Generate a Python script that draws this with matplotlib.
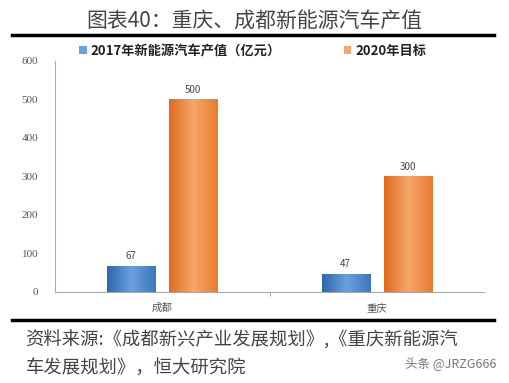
import matplotlib

matplotlib.use("Agg")
import matplotlib.pyplot as plt
import numpy as np
from matplotlib.colors import LinearSegmentedColormap
from matplotlib.lines import Line2D
from matplotlib.patches import Patch

plt.rcParams["font.family"] = ["Noto Sans CJK SC", "DejaVu Sans"]

CITIES = ["成都", "重庆"]
VALUE_2017 = [67, 47]
TARGET_2020 = [500, 300]
SERIES_LABELS = ["2017年新能源汽车产值（亿元）", "2020年目标"]
Y_TICKS = [0, 100, 200, 300, 400, 500, 600]

TITLE = "图表40：重庆、成都新能源汽车产值"
SOURCE_LINES = ["资料来源:《成都新兴产业发展规划》,《重庆新能源汽", "车发展规划》，恒大研究院"]
WATERMARK = "头条 @JRZG666"

BLUE = ["#2d67ad", "#6aa0dc", "#3b78c0"]
ORANGE = ["#e06a1f", "#f7a76a", "#ea7b30"]


def gradient_bars(ax, bars, colors):
    cmap = LinearSegmentedColormap.from_list("g", colors)
    grad = np.linspace(0, 1, 64).reshape(1, -1)
    for b in bars:
        x0, y0 = b.get_x(), b.get_y()
        w, h = b.get_width(), b.get_height()
        im = ax.imshow(grad, cmap=cmap, aspect="auto", extent=(x0, x0 + w, y0, y0 + h),
                       zorder=3)
        im.set_clip_path(b)
        b.set_facecolor("none")


fig = plt.figure(figsize=(5.09, 3.83), dpi=100)
ax = fig.add_axes([0.108, 0.238, 0.843, 0.603])

x = np.arange(len(CITIES))
w = 0.225
b1 = ax.bar(x - 0.145, VALUE_2017, width=w, color=BLUE[1], edgecolor="none", zorder=3)
b2 = ax.bar(x + 0.145, TARGET_2020, width=w, color=ORANGE[1], edgecolor="none", zorder=3)
gradient_bars(ax, b1, BLUE)
gradient_bars(ax, b2, ORANGE)

for xs, vals in ((x - 0.145, VALUE_2017), (x + 0.145, TARGET_2020)):
    for xi, v in zip(xs, vals):
        ax.text(xi, v + 12, str(v), ha="center", va="bottom", fontsize=7, color="#444444")

ax.set_xlim(-0.5, 1.5)
ax.set_ylim(0, 600)
ax.set_yticks(Y_TICKS)
ax.set_yticklabels([str(t) for t in Y_TICKS], fontsize=8, color="#555555",
                   family="Liberation Serif")
ax.set_xticks(x)
ax.set_xticklabels(CITIES, fontsize=7.5, color="#555555")
ax.tick_params(axis="x", length=0, pad=8)
ax.tick_params(axis="y", length=0, pad=12)
ax.set_xticks([0.5], minor=True)
ax.tick_params(axis="x", which="minor", length=3, color="#999999", direction="out")
for s in ("top", "right"):
    ax.spines[s].set_visible(False)
for s in ("left", "bottom"):
    ax.spines[s].set_color("#aaaaaa")
    ax.spines[s].set_linewidth(0.8)

legend_anchor = [(0.155, 0.867), (0.675, 0.867)]
for label, col, anchor in zip(SERIES_LABELS, (BLUE[1], ORANGE[1]), legend_anchor):
    leg = fig.legend([Patch(facecolor=col, edgecolor="none")], [label], loc="center left",
                     bbox_to_anchor=anchor, frameon=False, handlelength=0.6,
                     handleheight=0.6, handletextpad=0.3, borderaxespad=0, borderpad=0,
                     prop={"weight": "bold", "size": 9.5})
    leg.get_texts()[0].set_color("#222222")

fig.text(0.5, 0.943, TITLE, ha="center", va="center", fontsize=15, color="#444444",
         weight="light")
fig.add_artist(Line2D([0.024, 0.971], [0.908, 0.908], color="black", linewidth=2.5))
fig.add_artist(Line2D([0.024, 0.971], [0.165, 0.165], color="black", linewidth=2.5))

fig.text(0.05, 0.112, SOURCE_LINES[0], ha="left", va="center", fontsize=13.2, color="#444444",
         weight="light")
fig.text(0.05, 0.038, SOURCE_LINES[1], ha="left", va="center", fontsize=13.2, color="#444444",
         weight="light")
fig.text(0.975, 0.052, WATERMARK, ha="right", va="center", fontsize=9, color="#777777")

fig.savefig("out.png", dpi=100)
